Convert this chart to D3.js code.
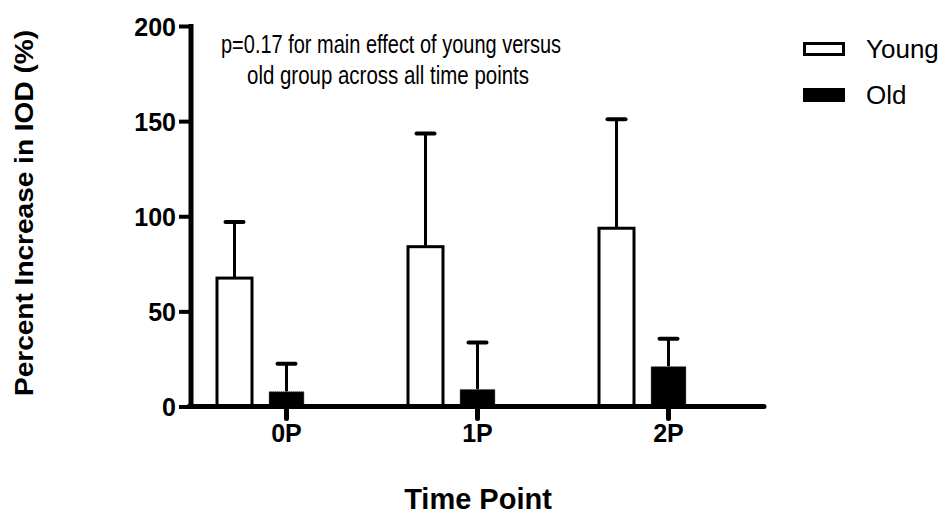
<!DOCTYPE html>
<html>
<head>
  <meta charset="utf-8">
  <title>Percent Increase in IOD</title>
  <style>
    body { margin: 0; background: #fff; }
    svg text { font-family: "Liberation Sans", Arial, sans-serif; fill: #000; }
  </style>
</head>
<body>
  <svg width="951" height="516"></svg>
  <script src="https://d3js.org/d3.v7.min.js"></script>
  <script>
  // data
  var timePoints = ['0P', '1P', '2P'];
  var youngMean = [67.5, 84, 93.7];
  var youngErr = [97, 143.5, 151];
  var oldMean = [7.8, 9, 21];
  var oldErr = [22.5, 33.7, 35.6];
  var yTicks = [0, 50, 100, 150, 200];

  var svg = d3.select('svg');

  var x = d3.scaleBand().domain(timePoints).range([191, 764]).padding(0);
  var y = d3.scaleLinear().domain([0, 200]).range([406.5, 26]);

  var barW = 35;
  var groups = [
    { name: 'Young', mean: youngMean, err: youngErr, offset: -52, fill: '#fff' },
    { name: 'Old', mean: oldMean, err: oldErr, offset: 0, fill: '#000' }
  ];

  // bars + error bars
  groups.forEach(function(s) {
    var cx = function(d, i) { return x(timePoints[i]) + x.bandwidth() / 2 + s.offset; };

    svg.selectAll('.err-' + s.name)
      .data(s.err)
      .enter()
      .append('line')
      .attr('x1', cx).attr('x2', cx)
      .attr('y1', function(d, i) { return y(s.mean[i]); })
      .attr('y2', function(d) { return y(d); })
      .attr('stroke', '#000').attr('stroke-width', 3);

    svg.selectAll('.cap-' + s.name)
      .data(s.err)
      .enter()
      .append('line')
      .attr('x1', function(d, i) { return cx(d, i) - 9; })
      .attr('x2', function(d, i) { return cx(d, i) + 9; })
      .attr('y1', function(d) { return y(d); })
      .attr('y2', function(d) { return y(d); })
      .attr('stroke', '#000').attr('stroke-width', 4)
      .attr('stroke-linecap', 'round');

    svg.selectAll('.bar-' + s.name)
      .data(s.mean)
      .enter()
      .append('rect')
      .attr('x', function(d, i) { return cx(d, i) - barW / 2; })
      .attr('y', function(d) { return y(d); })
      .attr('width', barW)
      .attr('height', function(d) { return y(0) - y(d); })
      .attr('fill', s.fill)
      .attr('stroke', s.name == 'Young' ? '#000' : '#777')
      .attr('stroke-width', s.name == 'Young' ? 3 : 1)
      .attr('stroke-dasharray', s.name == 'Young' ? null : '1,1');
  });

  // y axis
  var yAxis = svg.append('g')
    .attr('transform', 'translate(191,0)')
    .call(d3.axisLeft(y).tickValues(yTicks).tickSize(12).tickPadding(3));
  yAxis.select('.domain').attr('stroke-width', 5).attr('d', 'M0,' + (y(0) + 2) + 'V' + (y(200) - 2));
  yAxis.selectAll('.tick line').attr('stroke-width', 4);
  yAxis.selectAll('.tick text')
    .style('font-size', '25px').style('font-weight', 'bold').attr('dy', '0.36em');

  // x axis
  var xAxis = svg.append('g')
    .attr('transform', 'translate(0,' + y(0) + ')')
    .call(d3.axisBottom(x).tickSize(12).tickPadding(3));
  xAxis.select('.domain').attr('stroke-width', 5).attr('stroke-linecap', 'round')
    .attr('d', 'M189,0H764');
  xAxis.selectAll('.tick line').attr('stroke-width', 5).attr('stroke-linecap', 'round');
  xAxis.selectAll('.tick text')
    .style('font-size', '25px').style('font-weight', 'bold').attr('dy', '0.82em');

  // axis titles
  svg.append('text')
    .attr('transform', 'translate(33,213) rotate(-90)')
    .attr('text-anchor', 'middle')
    .attr('textLength', 366).attr('lengthAdjust', 'spacingAndGlyphs')
    .style('font-size', '26px').style('font-weight', 'bold')
    .text('Percent Increase in IOD (%)');

  svg.append('text')
    .attr('x', 478).attr('y', 509)
    .attr('text-anchor', 'middle')
    .style('font-size', '29px').style('font-weight', 'bold')
    .text('Time Point');

  // annotation
  svg.append('text')
    .attr('x', 391).attr('y', 53)
    .attr('text-anchor', 'middle')
    .attr('textLength', 340).attr('lengthAdjust', 'spacingAndGlyphs')
    .style('font-size', '25px')
    .text('p=0.17 for main effect of young versus');
  svg.append('text')
    .attr('x', 388).attr('y', 84)
    .attr('text-anchor', 'middle')
    .attr('textLength', 282).attr('lengthAdjust', 'spacingAndGlyphs')
    .style('font-size', '25px')
    .text('old group across all time points');

  // legend
  var legend = svg.selectAll('.legend')
    .data(groups)
    .enter()
    .append('g')
    .attr('transform', function(d, i) { return 'translate(803,' + (42 + i * 46) + ')'; });
  legend.append('rect')
    .attr('x', function(d) { return d.name == 'Young' ? 1.5 : 0; })
    .attr('y', function(d) { return d.name == 'Young' ? 1.5 : 0; })
    .attr('width', function(d) { return d.name == 'Young' ? 39 : 42; })
    .attr('height', function(d) { return d.name == 'Young' ? 11 : 14; })
    .attr('fill', function(d) { return d.fill; })
    .attr('stroke', '#000')
    .attr('stroke-width', function(d) { return d.name == 'Young' ? 3 : 0; });
  legend.append('text')
    .attr('x', 63).attr('y', 16)
    .style('font-size', '26px')
    .text(function(d) { return d.name; });
  </script>
</body>
</html>
